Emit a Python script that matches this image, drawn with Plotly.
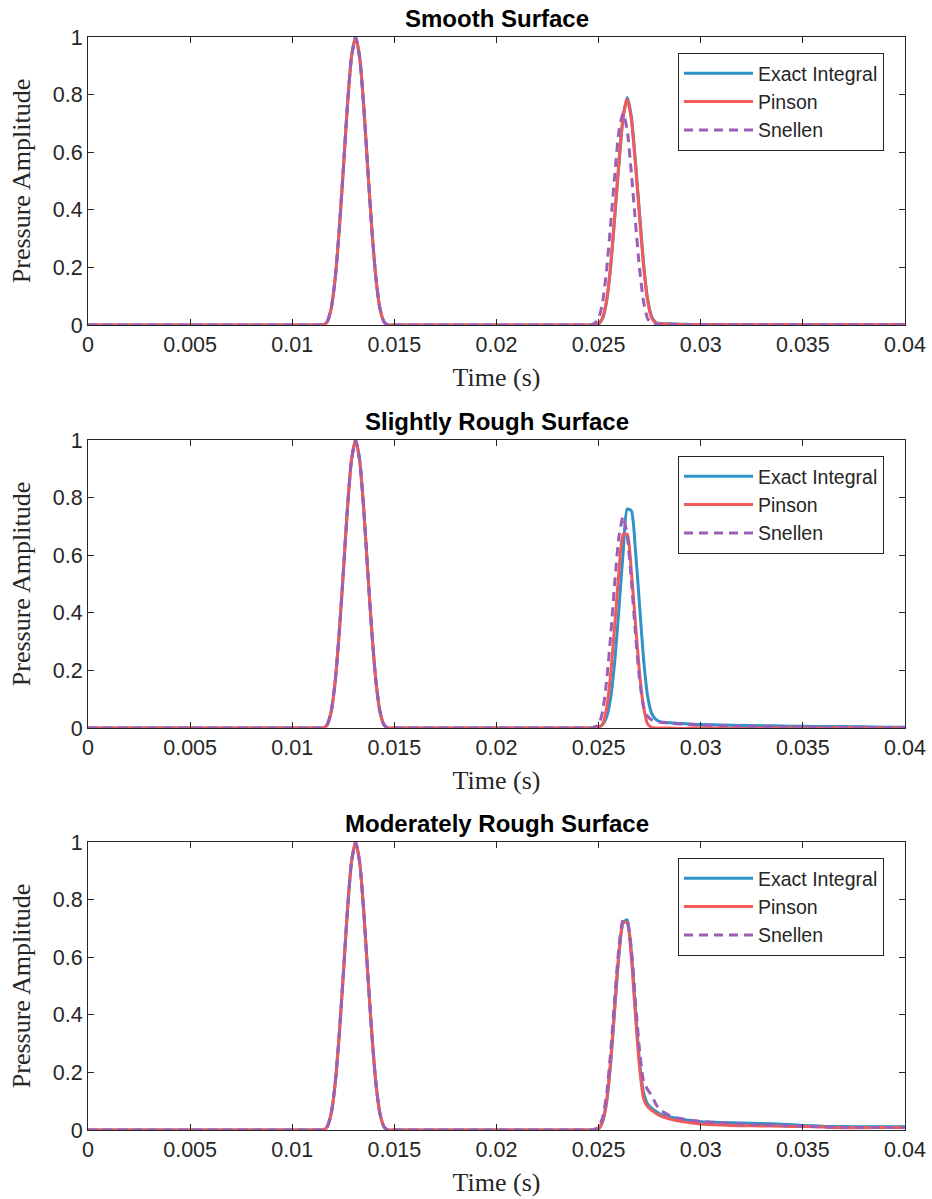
import plotly.graph_objects as go

# ---------------- data ----------------
time_s = [0, 0.005, 0.010, 0.0113, 0.0115,
          0.0117, 0.0119, 0.0121, 0.0123, 0.0125, 0.0127, 0.0129, 0.0131,
          0.0133, 0.0135, 0.0137, 0.0139, 0.0141, 0.0143, 0.0145, 0.0147,
          0.0150, 0.020, 0.0240, 0.0246,
          0.0248, 0.0250, 0.0252, 0.0254, 0.0256, 0.0258, 0.0260, 0.0262,
          0.0264, 0.0266, 0.0268, 0.0270, 0.0272, 0.0274, 0.0276, 0.0278, 0.0280,
          0.0285, 0.029, 0.0295, 0.030, 0.031, 0.032, 0.033, 0.034, 0.035,
          0.036, 0.037, 0.038, 0.039, 0.040]

direct_pulse = [0, 0, 0, 0, 0,
                0.01, 0.055, 0.16, 0.33, 0.54, 0.76, 0.93, 1.0,
                0.93, 0.76, 0.54, 0.33, 0.16, 0.055, 0.01, 0.0,
                0, 0, 0, 0]

# Smooth surface (reflected pulse region + tail)
smooth_exact = [0, 0.004, 0.024, 0.086, 0.21, 0.385, 0.565, 0.72,
                0.79, 0.725, 0.57, 0.39, 0.215, 0.09, 0.028, 0.009, 0.005,
                0.004, 0.003, 0.002, 0.002, 0.001, 0.001, 0.001, 0.001, 0.001,
                0.001, 0.001, 0.001, 0.001, 0.001]
smooth_pinson = [0, 0.004, 0.026, 0.09, 0.215, 0.39, 0.57, 0.725,
                 0.785, 0.715, 0.56, 0.38, 0.205, 0.083, 0.024, 0.007, 0.004,
                 0.003, 0.002, 0.002, 0.001, 0.001, 0.001, 0.001, 0.001, 0.001,
                 0.001, 0.001, 0.001, 0.001, 0.001]
smooth_snellen = [0.006, 0.022, 0.081, 0.198, 0.36, 0.529, 0.676, 0.735,
                  0.676, 0.529, 0.36, 0.198, 0.081, 0.022, 0.005, 0.002, 0.002,
                  0.002, 0.001, 0.001, 0.001, 0.001, 0.001, 0.001, 0.001, 0.001,
                  0.001, 0.001, 0.001, 0.001, 0.001]

# Slightly rough surface
slight_exact = [0, 0.003, 0.012, 0.04, 0.11, 0.24, 0.42, 0.61,
                0.76, 0.755, 0.62, 0.43, 0.24, 0.11, 0.05, 0.03, 0.022,
                0.018, 0.016, 0.014, 0.012, 0.010, 0.009, 0.008, 0.007, 0.006,
                0.005, 0.005, 0.004, 0.003, 0.003]
slight_pinson = [0, 0.003, 0.014, 0.073, 0.194, 0.367, 0.547, 0.672,
                 0.672, 0.547, 0.367, 0.194, 0.073, 0.014, 0.002, 0, 0,
                 0, -0.002, 0, 0.001, 0, -0.002, 0, 0.001, -0.001,
                 0, 0.001, 0, 0, 0]
slight_snellen = [0.004, 0.011, 0.059, 0.169, 0.33, 0.514, 0.668, 0.734,
                  0.668, 0.514, 0.33, 0.17, 0.075, 0.04, 0.028, 0.022, 0.02,
                  0.016, 0.014, 0.012, 0.01, 0.008, 0.006, 0.005, 0.004, 0.004,
                  0.003, 0.003, 0.002, 0.002, 0.002]

# Moderately rough surface
moderate_exact = [0, 0.005, 0.03, 0.10, 0.24, 0.43, 0.61, 0.72,
                  0.73, 0.62, 0.42, 0.24, 0.13, 0.09, 0.075, 0.065, 0.055,
                  0.045, 0.038, 0.033, 0.029, 0.026, 0.024, 0.023, 0.020, 0.016,
                  0.013, 0.012, 0.011, 0.011, 0.011]
moderate_pinson = [0, 0.005, 0.032, 0.105, 0.25, 0.44, 0.62, 0.72,
                   0.72, 0.60, 0.40, 0.22, 0.11, 0.08, 0.068, 0.058, 0.05,
                   0.038, 0.03, 0.025, 0.021, 0.017, 0.015, 0.014, 0.013, 0.012,
                   0.010, 0.008, 0.008, 0.009, 0.009]
moderate_snellen = [0.003, 0.01, 0.045, 0.13, 0.28, 0.47, 0.64, 0.73,
                    0.72, 0.63, 0.45, 0.28, 0.17, 0.14, 0.12, 0.09, 0.07,
                    0.05, 0.04, 0.034, 0.03, 0.025, 0.021, 0.018, 0.016, 0.013,
                    0.011, 0.009, 0.009, 0.009, 0.009]

panel_titles = ["Smooth Surface", "Slightly Rough Surface", "Moderately Rough Surface"]
series_names = ["Exact Integral", "Pinson", "Snellen"]
panels = [
    (smooth_exact, smooth_pinson, smooth_snellen),
    (slight_exact, slight_pinson, slight_snellen),
    (moderate_exact, moderate_pinson, moderate_snellen),
]
x_ticks = [0, 0.005, 0.01, 0.015, 0.02, 0.025, 0.03, 0.035, 0.04]
x_tick_text = ["0", "0.005", "0.01", "0.015", "0.02", "0.025", "0.03", "0.035", "0.04"]
y_ticks = [0, 0.2, 0.4, 0.6, 0.8, 1]
y_tick_text = ["0", "0.2", "0.4", "0.6", "0.8", "1"]

# ---------------- figure ----------------
colors = ["#2f93c8", "#f25a5a", "#9c5fb5"]
dashes = ["solid", "solid", "dash"]

W, H = 932, 1199
mt, mb, ml, mr = 37, 69, 88, 27
ph = H - mt - mb
fig = go.Figure()

panel_px = [(37, 325), (440, 728), (842, 1130)]  # top, bottom in px
axis_font = dict(family="Liberation Sans, Arial", size=21.5, color="#262626")
serif = dict(family="Liberation Serif, Times New Roman, serif", size=26, color="#262626")

for i, (vals, title) in enumerate(zip(panels, panel_titles)):
    k = "" if i == 0 else str(i + 1)
    top, bot = panel_px[i]
    dom = [(H - mb - bot) / ph, (H - mb - top) / ph]
    legend_name = "legend" if i == 0 else f"legend{i+1}"
    for j in range(3):
        fig.add_trace(go.Scatter(
            x=time_s, y=direct_pulse + list(vals[j]),
            mode="lines", name=series_names[j],
            line=dict(color=colors[j], width=3, dash="9px,6px" if dashes[j] == "dash" else "solid",
                      shape="spline", smoothing=0.6),
            xaxis="x" + k, yaxis="y" + k, legend=legend_name,
        ))
    fig.layout["xaxis" + k] = dict(
        domain=[0, 1], anchor="y" + k, range=[0, 0.04], automargin=False,
        tickvals=x_ticks, ticktext=x_tick_text, ticks="inside", ticklen=6,
        tickcolor="#262626", showline=True, linecolor="#262626", linewidth=1,
        mirror="ticks", showgrid=False, zeroline=False, tickfont=axis_font,
        title=dict(text="Time (s)", font=serif, standoff=12),
    )
    fig.layout["yaxis" + k] = dict(
        domain=dom, anchor="x" + k, range=[0, 1], automargin=False,
        tickvals=y_ticks, ticktext=y_tick_text, ticks="inside", ticklen=6,
        tickcolor="#262626", showline=True, linecolor="#262626", linewidth=1,
        mirror="ticks", showgrid=False, zeroline=False, tickfont=axis_font,
        title=dict(text="Pressure Amplitude", font=serif, standoff=14),
    )
    legend_top = (H - mb - (top + 16)) / ph
    fig.layout[legend_name] = dict(
        x=(678 - ml) / (W - ml - mr), y=legend_top, xanchor="left", yanchor="top",
        bgcolor="white", bordercolor="#262626", borderwidth=1,
        font=dict(family="Liberation Sans, Arial", size=19.5, color="#262626"),
        itemwidth=69, tracegroupgap=0,
    )
    fig.add_annotation(
        text="<b>" + title + "</b>", xref="paper", yref="paper",
        x=0.5, y=(H - mb - (top - 19)) / ph, xanchor="center", yanchor="middle",
        showarrow=False, font=dict(family="Liberation Sans, Arial", size=24, color="black"),
    )

fig.update_layout(
    width=W, height=H, margin=dict(l=ml, r=mr, t=mt, b=mb, autoexpand=False),
    paper_bgcolor="white", plot_bgcolor="white", showlegend=True,
)

fig.write_html("out.html")
